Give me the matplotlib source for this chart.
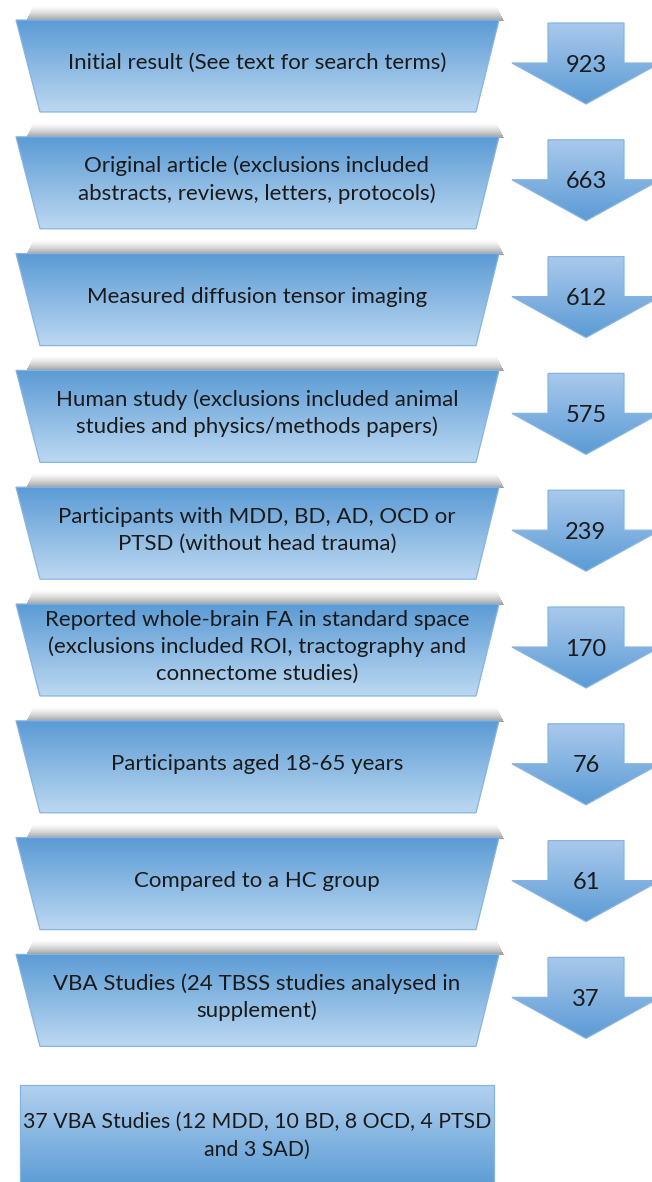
import numpy as np
import matplotlib
matplotlib.use('Agg')
import matplotlib.pyplot as plt
from matplotlib.patches import Polygon, Rectangle
from matplotlib.colors import LinearSegmentedColormap

# flow steps (text) and number of records left after each step
steps = [
    'Initial result (See text for search terms)',
    'Original article (exclusions included\nabstracts, reviews, letters, protocols)',
    'Measured diffusion tensor imaging',
    'Human study (exclusions included animal\nstudies and physics/methods papers)',
    'Participants with MDD, BD, AD, OCD or\nPTSD (without head trauma)',
    'Reported whole-brain FA in standard space\n(exclusions included ROI, tractography and\nconnectome studies)',
    'Participants aged 18-65 years',
    'Compared to a HC group',
    'VBA Studies (24 TBSS studies analysed in\nsupplement)',
]
counts = [923, 663, 612, 575, 239, 170, 76, 61, 37]
final_text = '37 VBA Studies (12 MDD, 10 BD, 8 OCD, 4 PTSD\nand 3 SAD)'

FONT = ['Lato', 'DejaVu Sans']
DARK = '#5b9bd5'
LIGHT = '#bcd8f1'
EDGE = '#86b4e2'

W, H = 652, 1182
fig = plt.figure(figsize=(W / 100, H / 100), dpi=100)
ax = fig.add_axes([0, 0, 1, 1])


def grad_poly(verts, c_top, c_bot, z=3):
    poly = Polygon(verts, closed=True, facecolor='none', edgecolor=EDGE, lw=0.9, zorder=z + 1)
    ax.add_patch(poly)
    xs = [v[0] for v in verts]
    ys = [v[1] for v in verts]
    cmap = LinearSegmentedColormap.from_list('g', [c_top, c_bot])
    grad = np.linspace(0, 1, 256)[:, None]
    im = ax.imshow(grad, cmap=cmap, extent=(min(xs), max(xs), max(ys), min(ys)),
                   aspect='auto', origin='upper', zorder=z, interpolation='bilinear')
    im.set_clip_path(poly)


def top_shadow(x0, x1, y, h=15, a=0.72):
    # soft grey band just above the top edge, built from thin strips
    for k in range(h):
        frac = (k + 1) / h
        inset = (1 - frac) * 8
        ax.add_patch(Rectangle((x0 + inset, y - h + k), x1 - x0 - 2 * inset, 1.05,
                               facecolor='#7a7a7a', edgecolor='none',
                               alpha=a * frac ** 1.4, zorder=1))


row_top0, row_step, row_h = 20, 116.8, 92
for i, (label, n) in enumerate(zip(steps, counts)):
    t = row_top0 + i * row_step
    b = t + row_h
    top_shadow(26, 504, t + 1)
    grad_poly([(16, t), (499, t), (476, b), (40, b)], DARK, LIGHT)
    ax.text(257, t + 43, label, ha='center', va='center', fontsize=16,
            family=FONT, color='#1a1a1a', linespacing=1.42, zorder=5)

    # block arrow with the count
    cx = 586
    at = t + 3
    arrow = [(cx - 38, at), (cx + 38, at), (cx + 38, at + 40), (cx + 74, at + 40),
             (cx, at + 81), (cx - 74, at + 40), (cx - 38, at + 40)]
    grad_poly(arrow, '#a9c9ec', DARK)
    ax.text(cx, at + 42, str(n), ha='center', va='center', fontsize=17,
            family=FONT, color='#1a1a1a', zorder=5)

# final box
ft = 1085
grad_poly([(20, ft), (494, ft), (494, H + 5), (20, H + 5)], '#b2d1ef', DARK)
ax.text(257, ft + 51, final_text, ha='center', va='center', fontsize=15.3,
        family=FONT, color='#1a1a1a', linespacing=1.48, zorder=5)

ax.set_xlim(0, W)
ax.set_ylim(H, 0)
ax.axis('off')
fig.savefig('out.png', dpi=100, facecolor='white')
